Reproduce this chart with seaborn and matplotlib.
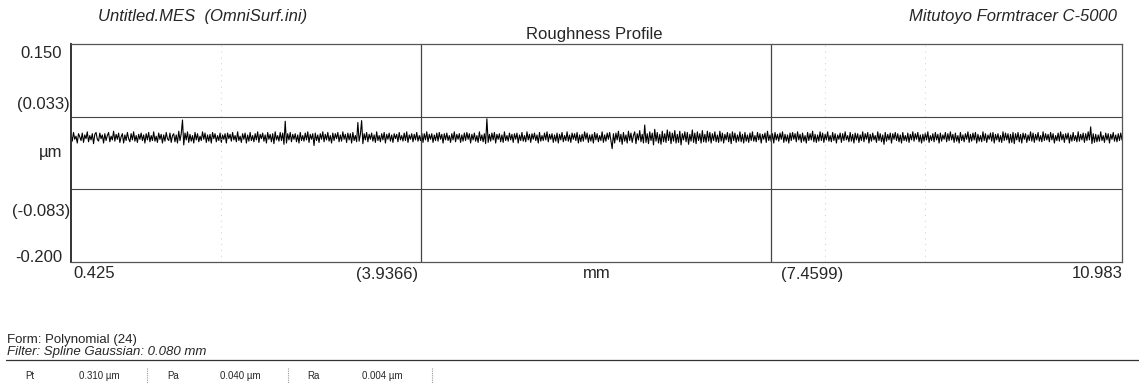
import numpy as np
import pandas as pd
import matplotlib
matplotlib.use("Agg")
import matplotlib.pyplot as plt
import seaborn as sns

# ---- data: roughness heights, in nm (0.001 um) ----
seg0 = [5,-6,8,-3,2,-9,6,1,-5,7,-8,4,-2,9,-7,3,-4,6,-10,5,8,-3,-6,7,-2,4,-9,6,-5,3,
        8,-7,2,-4,10,-6,5,-3,7,-8,1,6,-9,4,-5,8,-2,-7,6,-4,9,-6,3,-8,5,-3,7,-5,4,-9]
seg1 = [6,-4,8,-7,3,-5,9,-6,2,-8,7,-3,5,-9,4,-6,8,-2,-5,7,-8,3,6,-7,4,-9,10,-5,6,28,
        -12,7,-4,9,-8,5,-6,3,-9,8,-4,6,-7,2,-5,9,-3,7,-8,4,-6,5,-9,8,-2,6,-7,3,-5,7]
seg2 = [-8,4,-3,6,-9,7,-2,5,-6,8,-4,3,-7,9,-5,2,-8,6,-3,7,-9,4,-6,8,-5,3,-7,6,-4,9,
        -8,5,-2,7,-6,4,-9,8,-3,5,-7,6,-10,9,-4,3,-6,8,-5,7,-11,26,-9,6,-4,8,-7,5,-3,6]
seg3 = [-7,4,-9,8,-5,3,-6,7,-4,9,-8,5,-3,6,-13,7,-5,4,-8,6,-3,9,-7,5,-4,8,-6,3,-9,7,
        -5,6,-2,8,-7,4,-6,9,-3,5,-8,7,-4,6,-9,8,-5,3,-7,24,-6,5,27,-10,6,-4,8,-7,5,-3]
seg4 = [7,-6,4,-8,9,-5,3,-7,6,-4,8,-9,5,-3,7,-6,4,-8,6,-2,5,-7,8,-4,3,-6,7,-5,9,-8,
        4,-3,6,-7,5,-4,8,-6,3,-5,7,-8,6,-4,9,-7,5,-3,6,-8,4,-5,7,-6,8,-3,5,-9,6,-4]
seg5 = [7,-5,3,-8,6,-4,9,-7,5,-3,6,-8,4,-6,7,-5,8,-3,6,-9,5,-4,7,-6,3,-8,9,-5,4,-7,
        6,-10,30,-8,5,-6,7,-4,8,-9,5,-3,6,-7,4,-8,9,-5,3,-6,7,-4,5,-8,6,-3,7,-9,4,-5]
seg6 = [8,-6,3,-7,9,-4,5,-8,6,-3,7,-5,4,-9,8,-6,3,-5,7,-4,9,-7,5,-3,6,-8,4,-6,7,-9,
        5,-4,8,-7,3,-5,9,-6,4,-8,7,-3,6,-5,8,-9,4,-7,5,-6,9,-3,7,-8,4,-6,5,-9,8,-4]
seg7 = [6,-7,3,-5,9,-8,4,-6,7,-3,8,-5,-18,6,-9,7,-4,10,-7,5,-11,8,-6,4,-9,10,-5,7,-8,3,
        9,-10,6,-4,11,-7,5,-9,20,-8,6,-10,9,-5,7,-12,13,-6,8,-9,5,-11,10,-7,6,-8,12,-5,9,-10]
seg8 = [7,-6,11,-9,5,-8,10,-12,6,-4,9,-7,8,-11,5,-6,12,-8,7,-10,9,-5,6,-9,11,-7,5,-8,10,-6,
        8,-9,6,-5,9,-7,4,-8,10,-6,7,-9,5,-4,8,-7,6,-10,9,-5,7,-8,4,-6,9,-7,5,-9,8,-6]
seg9 = [4,-8,7,-5,9,-6,3,-7,8,-4,6,-9,5,-3,7,-8,10,-5,4,-7,6,-9,8,-4,5,-6,7,-3,9,-8,
        5,-6,4,-9,7,-5,8,-3,6,-7,9,-4,5,-8,7,-6,3,-9,8,-5,6,-4,10,-7,5,-8,4,-6,9,-5]
seg10 = [7,-8,5,-4,9,-6,3,-7,8,-5,6,-9,4,-3,7,-8,6,-5,9,-4,3,-7,8,-6,5,-9,7,-4,6,-8,
         4,-5,9,-7,6,-3,8,-9,5,-6,7,-4,3,-8,9,-5,6,-7,4,-11,8,-6,5,-4,7,-9,6,-3,8,-5]
seg11 = [6,-7,4,-9,8,-5,3,-6,7,-8,5,-4,9,-6,6,-3,8,-7,4,-9,5,-6,7,-4,9,-8,3,-5,6,-7,
         8,-4,5,-9,7,-6,4,-3,8,-7,6,-5,9,-4,5,-8,7,-6,3,-9,8,-5,4,-7,6,-3,9,-8,5,-6]
seg12 = [7,-4,8,-9,5,-6,3,-7,9,-5,6,-8,4,-3,7,-6,8,-9,5,-4,6,-7,3,-8,9,-5,7,-4,6,-9,
         5,-8,8,-10,6,-4,8,-7,5,-9,7,-3,6,-8,4,-5,9,-6,7,-8,5,-4,8,-6,3,-7,9,-5,6,-4]
seg13 = [5,-7,8,-4,6,-9,3,-5,7,-6,9,-4,5,-8,6,-3,7,-9,4,-6,8,-5,3,-7,9,-6,5,-4,7,-8,
         6,-5,9,-4,17,-10,6,-8,5,-7,4,-6,9,-5,3,-8,7,-4,6,-9,5,-3,8,-6,4,-7,6,-5,7,-4]
heights_nm = (seg0 + seg1 + seg2 + seg3 + seg4 + seg5 + seg6 + seg7
              + seg8 + seg9 + seg10 + seg11 + seg12 + seg13)

x_start, x_end = 0.425, 10.983
x_marks = [3.9366, 7.4599]
x_tick_labels = ["0.425", "(3.9366)", "(7.4599)", "10.983"]
y_min, y_max = -0.200, 0.150
y_lines = [0.033, -0.083]
y_tick_labels = ["0.150", "(0.033)", "\u00b5m", "(-0.083)", "-0.200"]
params = [("Pt", "0.310 \u00b5m"), ("Pa", "0.040 \u00b5m"), ("Ra", "0.004 \u00b5m")]

df = pd.DataFrame({
    "x": np.linspace(x_start, x_end, len(heights_nm)),
    "h": np.array(heights_nm) / 1000.0,
})

# ---- figure ----
sns.set_style("white")
plt.rcParams["font.family"] = ["Liberation Sans", "DejaVu Sans"]
W, H = 1139, 385
fig = plt.figure(figsize=(W / 100, H / 100), dpi=100)
L, R, T, B = 71, 1122, 44, 262
ax = fig.add_axes([L / W, 1 - B / H, (R - L) / W, (B - T) / H])

sns.lineplot(data=df, x="x", y="h", ax=ax, color="black", linewidth=0.8)

ax.set_xlim(x_start, x_end)
ax.set_ylim(y_min, y_max)
for yl in y_lines:
    ax.axhline(yl, color="#444444", linewidth=0.8)
for xm in x_marks:
    ax.axvline(xm, color="#444444", linewidth=0.9)
for xd in [1.93, 8.0, 9.0]:
    ax.axvline(xd, color="#bbbbbb", linewidth=0.6, linestyle=(0, (1, 6)))

ax.set_xticks([])
ax.set_yticks([])
ax.set_xlabel("")
ax.set_ylabel("")
for s in ax.spines.values():
    s.set_color("#555555")
    s.set_linewidth(0.9)
ax.spines["left"].set_linewidth(1.4)
ax.spines["left"].set_color("#333333")


def ftxt(px, py, s, **kw):
    fig.text(px / W, 1 - py / H, s, **kw)


fs = 12
# header
ftxt(203, 17, "Untitled.MES  (OmniSurf.ini)", ha="center", va="center", fontsize=fs, style="italic")
ftxt(1117, 17, "Mitutoyo Formtracer C-5000", ha="right", va="center", fontsize=fs, style="italic")
ftxt(594, 34, "Roughness Profile", ha="center", va="center", fontsize=fs)

# y labels (bracketed labels sit a little further right, as in the reference)
for py, px, lab in zip([54, 105, 152, 212, 257], [62, 70, 62, 70, 62], y_tick_labels):
    ftxt(px, py, lab, ha="right", va="center", fontsize=fs)

# x labels
ftxt(73, 274, x_tick_labels[0], ha="left", va="center", fontsize=fs)
ftxt(418, 274, x_tick_labels[1], ha="right", va="center", fontsize=fs)
ftxt(597, 274, "mm", ha="center", va="center", fontsize=fs)
ftxt(781, 274, x_tick_labels[2], ha="left", va="center", fontsize=fs)
ftxt(1123, 274, x_tick_labels[3], ha="right", va="center", fontsize=fs)

# footer
ftxt(7, 340, "Form: Polynomial (24)", ha="left", va="center", fontsize=9.5)
ftxt(7, 352, "Filter: Spline Gaussian: 0.080 mm", ha="left", va="center", fontsize=9.5, style="italic")
fig.add_artist(plt.Line2D([6 / W, 1.0], [1 - 360 / H, 1 - 360 / H], color="#333333", linewidth=0.9))
name_x = [25, 167, 307]
val_x = [79, 220, 362]
sep_x = [147, 288, 432]
for (nm, val), nx, vx, sx in zip(params, name_x, val_x, sep_x):
    ftxt(nx, 376, nm, ha="left", va="center", fontsize=7)
    ftxt(vx, 376, val, ha="left", va="center", fontsize=7)
    fig.add_artist(plt.Line2D([sx / W, sx / W], [1 - 368 / H, 1 - 383 / H],
                              color="#999999", linewidth=0.8, linestyle=(0, (1, 1))))

fig.savefig("out.png", dpi=100)
